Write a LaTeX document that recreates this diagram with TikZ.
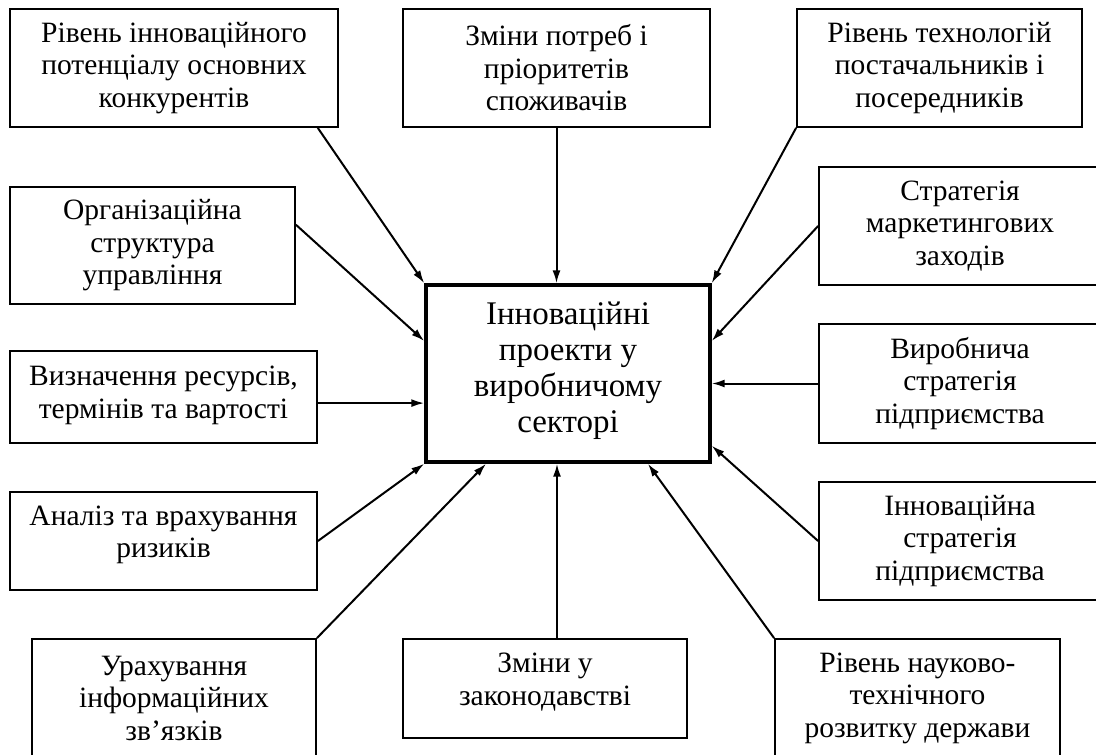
\documentclass[tikz,border=0pt]{standalone}
\usepackage{fontspec}
\setmainfont{Liberation Serif}
\usetikzlibrary{arrows.meta,calc}
\begin{document}
\begin{tikzpicture}[x=1pt,y=-1pt,
  box/.style={draw, line width=1.8pt, inner sep=0pt, align=center,
    font=\fontsize{29.5}{32.5}\selectfont},
  centre/.style={draw, line width=3.4pt, inner sep=0pt, align=center,
    font=\fontsize{33}{36}\selectfont},
  conn/.style={line width=2pt, -{Latex[length=13pt,width=8pt]}}]
\useasboundingbox (0,0) rectangle (1096,755);
\fill[white] (0,0) rectangle (1096,755);

\node[centre, minimum width=284pt, minimum height=177pt] (C) at (568,373.5)
  {Інноваційні\\проекти у\\виробничому\\секторі\\[-24pt]};

\node[box, minimum width=328pt, minimum height=118pt] (TL) at (174,68)
  {Рівень інноваційного\\потенціалу основних\\конкурентів};
\node[box, minimum width=307pt, minimum height=118pt] (TM) at (556.5,68)
  {Зміни потреб і\\пріоритетів\\споживачів};
\node[box, minimum width=285pt, minimum height=118pt] (TR) at (939.5,68)
  {Рівень технологій\\постачальників і\\посередників};
\node[box, minimum width=285pt, minimum height=117pt] (Org) at (152.5,245.5)
  {Організаційна\\структура\\управління};
\node[box, minimum width=282pt, minimum height=118pt] (Mkt) at (960,226)
  {Стратегія\\маркетингових\\заходів};
\node[box, minimum width=307pt, minimum height=92pt] (V) at (163.5,397)
  {Визначення ресурсів,\\термінів та вартості\\[-22.5pt]};
\node[box, minimum width=282pt, minimum height=119pt] (Vyr) at (960,383.5)
  {Виробнича\\стратегія\\підприємства};
\node[box, minimum width=307pt, minimum height=98pt] (An) at (163.5,541)
  {Аналіз та врахування\\ризиків\\[-14pt]};
\node[box, minimum width=282pt, minimum height=118pt] (In) at (960,541)
  {Інноваційна\\стратегія\\підприємства};
\node[box, minimum width=284pt, minimum height=118pt] (BL) at (174,698)
  {Урахування\\інформаційних\\зв’язків};
\node[box, minimum width=284pt, minimum height=99pt] (BM) at (545,688.5)
  {Зміни у\\законодавстві\\[-14pt]};
\node[box, minimum width=285pt, minimum height=118pt] (BR) at (917.5,698)
  {Рівень науково-\\технічного\\розвитку держави};

\coordinate (tls) at ($(TL.south west)!0.936!(TL.south east)$);
\coordinate (orgs) at ($(Org.north east)!0.325!(Org.south east)$);
\coordinate (vs) at ($(V.north east)!0.565!(V.south east)$);
\coordinate (bms) at ($(BM.north west)!0.542!(BM.north east)$);

\draw[conn] (tls) -- (C.north west);
\draw[conn] (TM.south) -- (TM.south |- C.north);
\draw[conn] (TR.south west) -- (C.north east);
\draw[conn] (orgs) -- ($(C.north west)!0.32!(C.south west)$);
\draw[conn] (Mkt.west) -- ($(C.north east)!0.32!(C.south east)$);
\draw[conn] (vs) -- (vs -| C.west);
\draw[conn] (Vyr.west) -- (Vyr.west -| C.east);
\draw[conn] (An.east) -- (C.south west);
\draw[conn] (In.west) -- ($(C.north east)!0.9!(C.south east)$);
\draw[conn] (BL.north east) -- ($(C.south west)!0.215!(C.south east)$);
\draw[conn] (bms) -- (bms |- C.south);
\draw[conn] (BR.north west) -- ($(C.south west)!0.778!(C.south east)$);
\end{tikzpicture}
\end{document}
